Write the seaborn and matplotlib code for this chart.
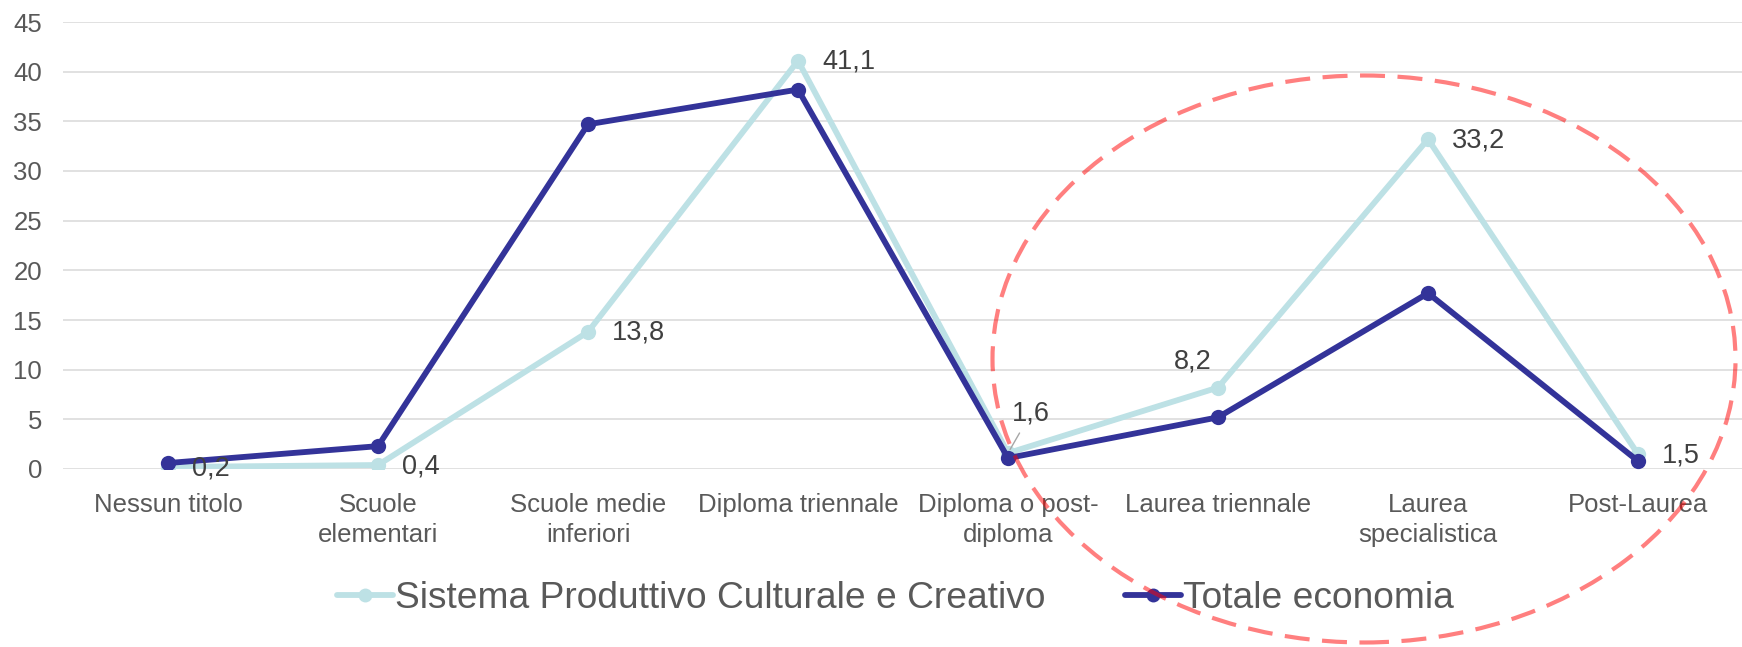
import matplotlib
matplotlib.use('Agg')
import matplotlib.pyplot as plt
import numpy as np
import pandas as pd
import seaborn as sns
from matplotlib.patches import Ellipse

# data
categories = ['Nessun titolo', 'Scuole\nelementari', 'Scuole medie\ninferiori',
              'Diploma triennale', 'Diploma o post-\ndiploma', 'Laurea triennale',
              'Laurea\nspecialistica', 'Post-Laurea']
spcc = [0.2, 0.4, 13.8, 41.1, 1.6, 8.2, 33.2, 1.5]
totale = [0.6, 2.3, 34.7, 38.2, 1.1, 5.2, 17.7, 0.8]
series_names = ['Sistema Produttivo Culturale e Creativo', 'Totale economia']
spcc_labels = ['0,2', '0,4', '13,8', '41,1', '1,6', '8,2', '33,2', '1,5']
yticks = [0, 5, 10, 15, 20, 25, 30, 35, 40, 45]

colors = ['#BDE1E5', '#333399']

sns.set_theme(style='white')
plt.rcParams['font.family'] = ['Liberation Sans', 'DejaVu Sans']

df = pd.DataFrame({
    'pos': list(range(len(categories))) * 2,
    'value': spcc + totale,
    'serie': [series_names[0]] * len(spcc) + [series_names[1]] * len(totale),
})

fig = plt.figure(figsize=(17.42, 6.47), dpi=100)
ax = fig.add_axes([63 / 1742, 178 / 647, 1680 / 1742, 447 / 647])

sns.lineplot(data=df, x='pos', y='value', hue='serie', palette=colors,
             marker='o', markersize=11, markeredgewidth=0, linewidth=4.2,
             sort=False, ax=ax, legend=False)

ax.set_xlim(-0.5, len(categories) - 0.5)
ax.set_ylim(0, 45)
ax.set_yticks(yticks)
ax.set_xticks(range(len(categories)))
ax.set_xticklabels(categories, linespacing=1.35)
ax.tick_params(axis='both', length=0, labelsize=18.5, labelcolor='#595959')
ax.tick_params(axis='y', pad=15)
ax.tick_params(axis='x', pad=17)
ax.set_xlabel('')
ax.set_ylabel('')
for s in ax.spines.values():
    s.set_visible(False)
ax.grid(axis='y', color='#d9d9d9', linewidth=1.1)
ax.set_axisbelow(True)

# data labels for the creative sector series
for i, (v, lab) in enumerate(zip(spcc, spcc_labels)):
    if lab == '1,6':
        ax.annotate(lab, xy=(i, v), xytext=(4, 40), textcoords='offset pixels',
                    fontsize=19.5, color='#404040', ha='left', va='center',
                    arrowprops=dict(arrowstyle='-', color='#a6a6a6', lw=1,
                                    shrinkA=3, shrinkB=3))
    elif lab == '8,2':
        ax.annotate(lab, xy=(i, v), xytext=(-6, 26), textcoords='offset pixels',
                    fontsize=19.5, color='#404040', ha='right', va='center')
    else:
        ax.annotate(lab, xy=(i, v), xytext=(24, -1), textcoords='offset pixels',
                    fontsize=19.5, color='#404040', ha='left', va='center')

# legend
handles = [plt.Line2D([], [], color=c, lw=4.2, marker='o', markersize=10,
                      markeredgewidth=0) for c in colors]
fig.legend(handles, series_names, loc='center', bbox_to_anchor=(0.514, 1 - 598 / 647),
           ncol=2, frameon=False, handlelength=1.5, handletextpad=0.05,
           columnspacing=2.15, prop={'size': 26.7}, labelcolor='#595959')

# dashed highlight ellipse
ell = Ellipse((1364 / 1742, 1 - 359 / 647), 743 / 1742, 567 / 647,
              transform=fig.transFigure, fill=False, edgecolor='#FF0000',
              alpha=0.5, linewidth=3, linestyle=(0, (6, 3)), zorder=10)
fig.patches.append(ell)

fig.savefig('out.png', dpi=100)
